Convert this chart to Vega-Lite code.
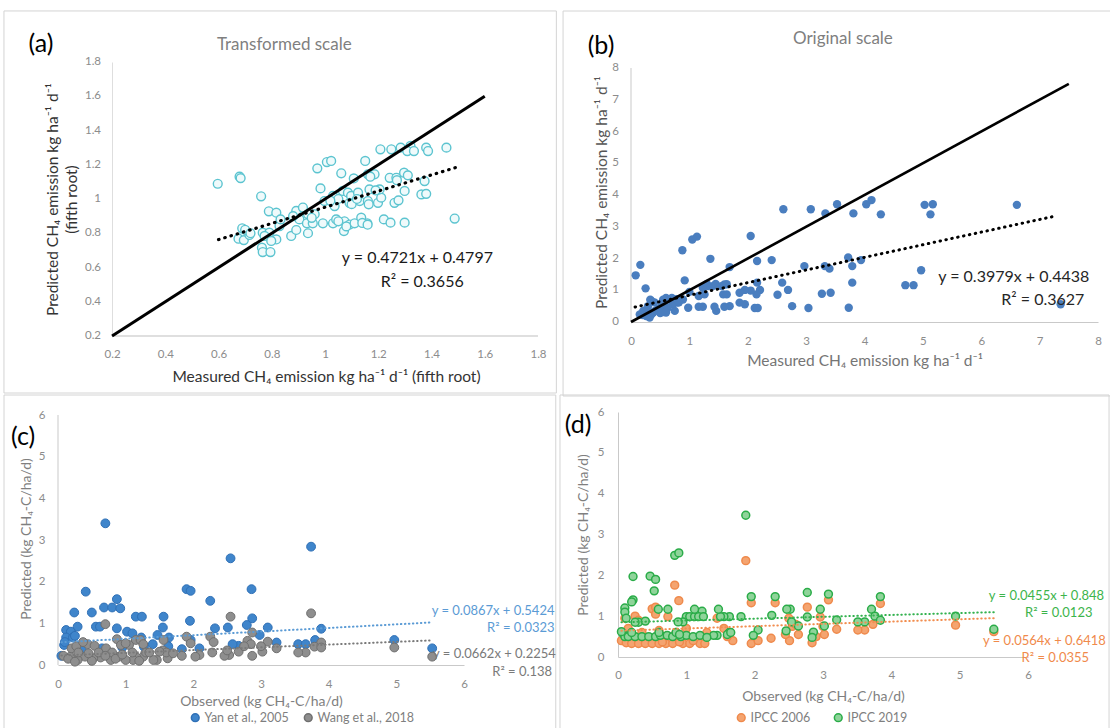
{
  "$schema": "https://vega.github.io/schema/vega-lite/v6.json",
  "background": "white",
  "padding": {"left": 3, "top": 10, "right": 0, "bottom": 0},
  "spacing": -3,
  "resolve": {"scale": {"color": "independent", "stroke": "independent"}},
  "config": {
    "view": {"stroke": null},
    "font": "Lato",
    "axis": {"ticks": false, "grid": false, "domainColor": "#c9c9c9", "domainWidth": 1, "labelColor": "#8c8c8c", "labelFontSize": 11.5, "labelFont": "Lato", "titleFont": "Lato", "titleFontWeight": "normal", "labelOverlap": false, "labelFlush": false},
    "legend": {"labelFont": "Lato", "labelFontSize": 12.5, "labelColor": "#7f7f7f", "symbolType": "circle", "direction": "horizontal"}
  },
  "datasets": {
    "a_ticks": [{"v":0.2},{"v":0.4},{"v":0.6},{"v":0.8},{"v":1},{"v":1.2},{"v":1.4},{"v":1.6},{"v":1.8}],
    "b_ticks": [{"v":0},{"v":1},{"v":2},{"v":3},{"v":4},{"v":5},{"v":6},{"v":7},{"v":8}],
    "a_pts": [
      {"x":0.597,"y":1.089},{"x":0.679,"y":1.130},{"x":0.683,"y":1.122},{"x":0.760,"y":1.016},{"x":0.789,"y":0.928},{"x":0.817,"y":0.920},{"x":0.689,"y":0.829},{"x":0.675,"y":0.768},{"x":0.695,"y":0.760},{"x":0.716,"y":0.790},{"x":0.766,"y":0.803},{"x":0.791,"y":0.803},{"x":0.773,"y":0.784},{"x":0.817,"y":0.764},{"x":0.798,"y":0.755},{"x":0.763,"y":0.716},{"x":0.766,"y":0.690},{"x":0.795,"y":0.690},{"x":0.829,"y":0.842},{"x":0.833,"y":0.881},{"x":0.873,"y":0.784},{"x":0.892,"y":0.819},{"x":0.892,"y":0.930},{"x":0.917,"y":0.950},{"x":0.936,"y":0.911},{"x":0.904,"y":0.881},{"x":0.936,"y":0.800},{"x":0.932,"y":0.858},{"x":0.961,"y":0.911},{"x":0.954,"y":0.858},{"x":0.992,"y":0.858},{"x":0.971,"y":1.179},{"x":1.007,"y":1.216},{"x":1.023,"y":1.222},{"x":0.983,"y":1.062},{"x":0.998,"y":0.988},{"x":1.030,"y":1.018},{"x":1.036,"y":0.959},{"x":1.030,"y":0.858},{"x":1.042,"y":0.881},{"x":1.071,"y":0.813},{"x":1.061,"y":1.150},{"x":1.067,"y":1.047},{"x":1.086,"y":1.037},{"x":1.098,"y":1.018},{"x":1.092,"y":0.978},{"x":1.073,"y":0.870},{"x":1.092,"y":0.851},{"x":1.111,"y":0.858},{"x":1.108,"y":1.120},{"x":1.130,"y":0.988},{"x":1.136,"y":0.891},{"x":1.151,"y":1.222},{"x":1.161,"y":1.144},{"x":1.186,"y":1.144},{"x":1.167,"y":1.056},{"x":1.161,"y":0.988},{"x":1.164,"y":0.969},{"x":1.159,"y":0.858},{"x":1.199,"y":0.978},{"x":1.211,"y":1.008},{"x":1.205,"y":1.056},{"x":1.221,"y":0.881},{"x":1.246,"y":0.862},{"x":1.208,"y":1.290},{"x":1.249,"y":1.290},{"x":1.284,"y":1.300},{"x":1.321,"y":1.310},{"x":1.309,"y":1.280},{"x":1.334,"y":1.280},{"x":1.380,"y":1.300},{"x":1.387,"y":1.280},{"x":1.456,"y":1.300},{"x":1.243,"y":1.124},{"x":1.268,"y":1.124},{"x":1.297,"y":1.154},{"x":1.311,"y":1.138},{"x":1.374,"y":1.105},{"x":1.261,"y":0.978},{"x":1.276,"y":0.992},{"x":1.299,"y":1.047},{"x":1.362,"y":1.027},{"x":1.380,"y":1.030},{"x":1.299,"y":0.862},{"x":1.487,"y":0.886},{"x":1.124,"y":1.037},{"x":1.05,"y":1.00},{"x":1.10,"y":0.97},{"x":1.02,"y":0.99},{"x":0.70,"y":0.82},{"x":0.72,"y":0.80},{"x":0.88,"y":0.90},{"x":0.95,"y":0.89},{"x":1.14,"y":0.86},{"x":1.16,"y":0.85},{"x":1.08,"y":0.84},{"x":1.05,"y":0.87},{"x":1.12,"y":1.00},{"x":1.19,"y":1.05},{"x":1.27,"y":1.11},{"x":1.17,"y":1.13}
    ],
    "a_lines": [
      {"line":"1:1","x":0.2,"y":0.2},{"line":"1:1","x":1.6,"y":1.6},
      {"line":"fit","x":0.6,"y":0.763},{"line":"fit","x":1.49,"y":1.1831}
    ],
    "b_pts": [
      {"x":0.08,"y":1.47},{"x":0.16,"y":1.80},{"x":0.25,"y":1.06},{"x":0.88,"y":2.26},{"x":1.05,"y":2.60},{"x":1.13,"y":2.69},{"x":1.36,"y":1.99},{"x":0.92,"y":1.31},{"x":1.69,"y":1.73},{"x":2.05,"y":2.71},{"x":2.16,"y":1.92},{"x":2.41,"y":1.95},{"x":2.61,"y":3.55},{"x":3.08,"y":3.55},{"x":3.33,"y":3.42},{"x":3.53,"y":3.71},{"x":3.81,"y":3.42},{"x":4.03,"y":3.71},{"x":4.12,"y":3.84},{"x":4.28,"y":3.39},{"x":5.03,"y":3.69},{"x":5.17,"y":3.71},{"x":5.13,"y":3.39},{"x":6.61,"y":3.69},{"x":7.36,"y":0.56},{"x":4.97,"y":1.63},{"x":4.70,"y":1.16},{"x":4.84,"y":1.16},{"x":3.72,"y":2.03},{"x":3.94,"y":1.95},{"x":3.79,"y":1.76},{"x":3.79,"y":1.24},{"x":3.73,"y":0.45},{"x":3.32,"y":1.76},{"x":3.40,"y":1.68},{"x":3.42,"y":0.92},{"x":3.27,"y":0.89},{"x":2.97,"y":1.76},{"x":3.04,"y":0.44},{"x":2.76,"y":0.50},{"x":2.69,"y":1.01},{"x":2.59,"y":1.24},{"x":2.51,"y":0.86},{"x":2.16,"y":1.24},{"x":2.21,"y":1.01},{"x":2.15,"y":0.87},{"x":2.12,"y":0.44},{"x":2.17,"y":0.44},{"x":2.05,"y":0.99},{"x":1.95,"y":1.01},{"x":1.86,"y":0.92},{"x":1.95,"y":0.56},{"x":1.69,"y":0.50},{"x":1.60,"y":0.48},{"x":1.64,"y":1.19},{"x":1.58,"y":0.87},{"x":1.64,"y":0.87},{"x":1.46,"y":0.35},{"x":1.43,"y":0.48},{"x":1.55,"y":1.13},{"x":1.40,"y":1.13},{"x":1.32,"y":1.13},{"x":1.23,"y":1.08},{"x":1.26,"y":0.87},{"x":1.23,"y":0.48},{"x":1.16,"y":0.48},{"x":0.98,"y":0.45},{"x":1.16,"y":0.82},{"x":1.00,"y":0.95},{"x":0.89,"y":0.71},{"x":0.80,"y":0.61},{"x":0.72,"y":0.56},{"x":0.66,"y":0.71},{"x":0.58,"y":0.66},{"x":0.52,"y":0.48},{"x":0.75,"y":0.35},{"x":0.55,"y":0.31},{"x":0.35,"y":0.66},{"x":0.29,"y":0.50},{"x":0.21,"y":0.35},{"x":0.15,"y":0.24},{"x":0.26,"y":0.19},{"x":0.35,"y":0.24},{"x":0.41,"y":0.35},{"x":0.32,"y":0.14},{"x":0.46,"y":0.40},{"x":0.63,"y":0.45},{"x":1.86,"y":0.61},{"x":0.33,"y":0.70},{"x":0.40,"y":0.62},{"x":0.55,"y":0.70},{"x":0.60,"y":0.76},{"x":0.70,"y":0.76},{"x":0.78,"y":0.72},{"x":0.82,"y":0.62},{"x":0.50,"y":0.28},{"x":0.60,"y":0.30},{"x":0.38,"y":0.30},{"x":0.28,"y":0.40},{"x":0.20,"y":0.22},{"x":1.30,"y":1.20},{"x":1.45,"y":1.20},{"x":1.60,"y":1.18}
    ],
    "b_lines": [
      {"line":"1:1","x":0,"y":0},{"line":"1:1","x":7.5,"y":7.5},
      {"line":"fit","x":0.07,"y":0.4717},{"line":"fit","x":7.3,"y":3.3485}
    ],
    "c_pts": [
      {"series":"Yan et al., 2005","x":0.70,"y":3.40},{"series":"Yan et al., 2005","x":3.74,"y":2.84},{"series":"Yan et al., 2005","x":2.55,"y":2.56},{"series":"Yan et al., 2005","x":0.41,"y":1.76},{"series":"Yan et al., 2005","x":1.90,"y":1.82},{"series":"Yan et al., 2005","x":1.96,"y":1.78},{"series":"Yan et al., 2005","x":2.86,"y":1.82},{"series":"Yan et al., 2005","x":2.25,"y":1.54},{"series":"Yan et al., 2005","x":0.87,"y":1.58},{"series":"Yan et al., 2005","x":0.68,"y":1.38},{"series":"Yan et al., 2005","x":0.80,"y":1.38},{"series":"Yan et al., 2005","x":0.92,"y":1.36},{"series":"Yan et al., 2005","x":0.24,"y":1.26},{"series":"Yan et al., 2005","x":0.50,"y":1.26},{"series":"Yan et al., 2005","x":1.15,"y":1.16},{"series":"Yan et al., 2005","x":1.24,"y":1.16},{"series":"Yan et al., 2005","x":1.56,"y":1.16},{"series":"Yan et al., 2005","x":2.87,"y":1.12},{"series":"Yan et al., 2005","x":1.95,"y":1.06},{"series":"Yan et al., 2005","x":0.56,"y":0.92},{"series":"Yan et al., 2005","x":0.29,"y":0.92},{"series":"Yan et al., 2005","x":0.87,"y":0.88},{"series":"Yan et al., 2005","x":1.55,"y":0.90},{"series":"Yan et al., 2005","x":1.02,"y":0.80},{"series":"Yan et al., 2005","x":1.10,"y":0.76},{"series":"Yan et al., 2005","x":2.32,"y":0.88},{"series":"Yan et al., 2005","x":2.51,"y":0.90},{"series":"Yan et al., 2005","x":2.79,"y":0.96},{"series":"Yan et al., 2005","x":3.10,"y":0.90},{"series":"Yan et al., 2005","x":2.98,"y":0.72},{"series":"Yan et al., 2005","x":3.89,"y":0.87},{"series":"Yan et al., 2005","x":0.12,"y":0.84},{"series":"Yan et al., 2005","x":0.19,"y":0.80},{"series":"Yan et al., 2005","x":0.12,"y":0.66},{"series":"Yan et al., 2005","x":0.22,"y":0.66},{"series":"Yan et al., 2005","x":1.23,"y":0.66},{"series":"Yan et al., 2005","x":1.47,"y":0.72},{"series":"Yan et al., 2005","x":1.64,"y":0.66},{"series":"Yan et al., 2005","x":1.96,"y":0.60},{"series":"Yan et al., 2005","x":3.80,"y":0.60},{"series":"Yan et al., 2005","x":4.97,"y":0.60},{"series":"Yan et al., 2005","x":5.53,"y":0.40},{"series":"Yan et al., 2005","x":3.55,"y":0.50},{"series":"Yan et al., 2005","x":3.66,"y":0.50},{"series":"Yan et al., 2005","x":3.23,"y":0.54},{"series":"Yan et al., 2005","x":2.67,"y":0.46},{"series":"Yan et al., 2005","x":2.58,"y":0.50},{"series":"Yan et al., 2005","x":2.09,"y":0.40},{"series":"Yan et al., 2005","x":1.83,"y":0.38},{"series":"Yan et al., 2005","x":1.27,"y":0.44},{"series":"Yan et al., 2005","x":0.09,"y":0.48},{"series":"Yan et al., 2005","x":0.62,"y":0.92},{"series":"Yan et al., 2005","x":0.25,"y":0.70},{"series":"Yan et al., 2005","x":0.10,"y":0.55},{"series":"Yan et al., 2005","x":0.65,"y":0.40},{"series":"Yan et al., 2005","x":0.95,"y":0.42},{"series":"Yan et al., 2005","x":1.40,"y":0.50},{"series":"Yan et al., 2005","x":0.05,"y":0.22},{"series":"Yan et al., 2005","x":1.63,"y":0.45},{"series":"Yan et al., 2005","x":0.35,"y":0.35},
      {"series":"Wang et al., 2018","x":3.74,"y":1.24},{"series":"Wang et al., 2018","x":2.55,"y":1.16},{"series":"Wang et al., 2018","x":0.70,"y":0.98},{"series":"Wang et al., 2018","x":2.87,"y":0.78},{"series":"Wang et al., 2018","x":1.90,"y":0.68},{"series":"Wang et al., 2018","x":2.25,"y":0.68},{"series":"Wang et al., 2018","x":0.87,"y":0.62},{"series":"Wang et al., 2018","x":1.15,"y":0.60},{"series":"Wang et al., 2018","x":1.22,"y":0.60},{"series":"Wang et al., 2018","x":1.56,"y":0.60},{"series":"Wang et al., 2018","x":1.96,"y":0.52},{"series":"Wang et al., 2018","x":2.80,"y":0.58},{"series":"Wang et al., 2018","x":3.10,"y":0.56},{"series":"Wang et al., 2018","x":3.89,"y":0.54},{"series":"Wang et al., 2018","x":3.79,"y":0.44},{"series":"Wang et al., 2018","x":3.89,"y":0.42},{"series":"Wang et al., 2018","x":4.97,"y":0.42},{"series":"Wang et al., 2018","x":5.53,"y":0.20},{"series":"Wang et al., 2018","x":3.66,"y":0.30},{"series":"Wang et al., 2018","x":3.55,"y":0.30},{"series":"Wang et al., 2018","x":3.23,"y":0.40},{"series":"Wang et al., 2018","x":3.02,"y":0.32},{"series":"Wang et al., 2018","x":2.87,"y":0.22},{"series":"Wang et al., 2018","x":2.67,"y":0.32},{"series":"Wang et al., 2018","x":2.53,"y":0.24},{"series":"Wang et al., 2018","x":2.46,"y":0.22},{"series":"Wang et al., 2018","x":2.28,"y":0.30},{"series":"Wang et al., 2018","x":2.09,"y":0.24},{"series":"Wang et al., 2018","x":2.03,"y":0.20},{"series":"Wang et al., 2018","x":1.83,"y":0.22},{"series":"Wang et al., 2018","x":1.62,"y":0.16},{"series":"Wang et al., 2018","x":1.46,"y":0.12},{"series":"Wang et al., 2018","x":1.41,"y":0.12},{"series":"Wang et al., 2018","x":1.26,"y":0.20},{"series":"Wang et al., 2018","x":1.16,"y":0.18},{"series":"Wang et al., 2018","x":1.11,"y":0.12},{"series":"Wang et al., 2018","x":1.00,"y":0.12},{"series":"Wang et al., 2018","x":0.90,"y":0.20},{"series":"Wang et al., 2018","x":0.78,"y":0.12},{"series":"Wang et al., 2018","x":0.63,"y":0.18},{"series":"Wang et al., 2018","x":0.52,"y":0.16},{"series":"Wang et al., 2018","x":0.40,"y":0.20},{"series":"Wang et al., 2018","x":0.29,"y":0.12},{"series":"Wang et al., 2018","x":0.18,"y":0.20},{"series":"Wang et al., 2018","x":0.08,"y":0.22},{"series":"Wang et al., 2018","x":0.20,"y":0.40},{"series":"Wang et al., 2018","x":0.27,"y":0.45},{"series":"Wang et al., 2018","x":0.44,"y":0.50},{"series":"Wang et al., 2018","x":0.54,"y":0.46},{"series":"Wang et al., 2018","x":0.71,"y":0.40},{"series":"Wang et al., 2018","x":0.93,"y":0.48},{"series":"Wang et al., 2018","x":1.05,"y":0.48},{"series":"Wang et al., 2018","x":1.26,"y":0.50},{"series":"Wang et al., 2018","x":0.37,"y":0.55},{"series":"Wang et al., 2018","x":1.00,"y":0.52},{"series":"Wang et al., 2018","x":1.55,"y":0.35},{"series":"Wang et al., 2018","x":1.60,"y":0.30},{"series":"Wang et al., 2018","x":2.30,"y":0.55},{"series":"Wang et al., 2018","x":2.85,"y":0.50},{"series":"Wang et al., 2018","x":3.00,"y":0.45},{"series":"Wang et al., 2018","x":0.30,"y":0.30},{"series":"Wang et al., 2018","x":0.60,"y":0.30},{"series":"Wang et al., 2018","x":0.80,"y":0.30},{"series":"Wang et al., 2018","x":1.10,"y":0.30},{"series":"Wang et al., 2018","x":1.30,"y":0.30},{"series":"Wang et al., 2018","x":1.50,"y":0.32},{"series":"Wang et al., 2018","x":1.70,"y":0.28},{"series":"Wang et al., 2018","x":0.15,"y":0.15},{"series":"Wang et al., 2018","x":0.25,"y":0.08},{"series":"Wang et al., 2018","x":0.50,"y":0.10},{"series":"Wang et al., 2018","x":0.85,"y":0.15},{"series":"Wang et al., 2018","x":1.20,"y":0.10},{"series":"Wang et al., 2018","x":1.35,"y":0.30},{"series":"Wang et al., 2018","x":0.95,"y":0.25},{"series":"Wang et al., 2018","x":0.70,"y":0.22},{"series":"Wang et al., 2018","x":0.45,"y":0.28},{"series":"Wang et al., 2018","x":2.50,"y":0.35},{"series":"Wang et al., 2018","x":2.75,"y":0.45}
    ],
    "c_lines": [
      {"series":"Yan et al., 2005","x":0.05,"y":0.5467},{"series":"Yan et al., 2005","x":5.5,"y":1.0193},
      {"series":"Wang et al., 2018","x":0.05,"y":0.2287},{"series":"Wang et al., 2018","x":5.5,"y":0.5895}
    ],
    "d_pts": [
      {"series":"IPCC 2006","x":1.87,"y":2.36},{"series":"IPCC 2006","x":0.83,"y":1.76},{"series":"IPCC 2006","x":0.89,"y":1.38},{"series":"IPCC 2006","x":1.95,"y":1.33},{"series":"IPCC 2006","x":2.30,"y":1.33},{"series":"IPCC 2006","x":2.77,"y":1.22},{"series":"IPCC 2006","x":3.08,"y":1.40},{"series":"IPCC 2006","x":3.84,"y":1.31},{"series":"IPCC 2006","x":4.94,"y":0.78},{"series":"IPCC 2006","x":5.50,"y":0.62},{"series":"IPCC 2006","x":3.73,"y":0.80},{"series":"IPCC 2006","x":3.61,"y":0.66},{"series":"IPCC 2006","x":3.51,"y":0.66},{"series":"IPCC 2006","x":3.20,"y":0.68},{"series":"IPCC 2006","x":3.02,"y":0.55},{"series":"IPCC 2006","x":2.96,"y":0.98},{"series":"IPCC 2006","x":2.84,"y":0.35},{"series":"IPCC 2006","x":2.64,"y":0.55},{"series":"IPCC 2006","x":2.51,"y":0.40},{"series":"IPCC 2006","x":2.24,"y":0.46},{"series":"IPCC 2006","x":1.95,"y":0.33},{"series":"IPCC 2006","x":2.05,"y":0.40},{"series":"IPCC 2006","x":1.68,"y":0.40},{"series":"IPCC 2006","x":0.73,"y":0.99},{"series":"IPCC 2006","x":0.50,"y":1.18},{"series":"IPCC 2006","x":0.55,"y":1.22},{"series":"IPCC 2006","x":0.55,"y":1.05},{"series":"IPCC 2006","x":0.25,"y":1.00},{"series":"IPCC 2006","x":0.30,"y":0.90},{"series":"IPCC 2006","x":0.10,"y":0.95},{"series":"IPCC 2006","x":0.15,"y":0.70},{"series":"IPCC 2006","x":0.05,"y":0.40},{"series":"IPCC 2006","x":0.12,"y":0.35},{"series":"IPCC 2006","x":0.20,"y":0.33},{"series":"IPCC 2006","x":0.30,"y":0.33},{"series":"IPCC 2006","x":0.40,"y":0.33},{"series":"IPCC 2006","x":0.50,"y":0.33},{"series":"IPCC 2006","x":0.60,"y":0.33},{"series":"IPCC 2006","x":0.70,"y":0.33},{"series":"IPCC 2006","x":0.80,"y":0.33},{"series":"IPCC 2006","x":0.95,"y":0.33},{"series":"IPCC 2006","x":1.05,"y":0.33},{"series":"IPCC 2006","x":1.20,"y":0.33},{"series":"IPCC 2006","x":1.27,"y":0.33},{"series":"IPCC 2006","x":0.65,"y":0.37},{"series":"IPCC 2006","x":0.90,"y":0.37},{"series":"IPCC 2006","x":1.10,"y":0.40},{"series":"IPCC 2006","x":1.00,"y":0.70},{"series":"IPCC 2006","x":0.60,"y":0.65},{"series":"IPCC 2006","x":0.85,"y":0.60},{"series":"IPCC 2006","x":1.45,"y":0.95},{"series":"IPCC 2006","x":1.55,"y":0.70},{"series":"IPCC 2006","x":2.50,"y":0.95},{"series":"IPCC 2006","x":2.55,"y":0.75},{"series":"IPCC 2006","x":2.45,"y":0.55},{"series":"IPCC 2006","x":3.00,"y":0.75},{"series":"IPCC 2006","x":0.35,"y":0.60},{"series":"IPCC 2006","x":1.30,"y":0.60},{"series":"IPCC 2006","x":1.60,"y":0.50},{"series":"IPCC 2006","x":2.90,"y":0.50},{"series":"IPCC 2006","x":2.60,"y":0.80},
      {"series":"IPCC 2019","x":1.87,"y":3.47},{"series":"IPCC 2019","x":0.83,"y":2.49},{"series":"IPCC 2019","x":0.89,"y":2.55},{"series":"IPCC 2019","x":0.22,"y":1.97},{"series":"IPCC 2019","x":0.47,"y":1.98},{"series":"IPCC 2019","x":0.55,"y":1.90},{"series":"IPCC 2019","x":0.53,"y":1.62},{"series":"IPCC 2019","x":1.95,"y":1.48},{"series":"IPCC 2019","x":2.30,"y":1.48},{"series":"IPCC 2019","x":2.77,"y":1.58},{"series":"IPCC 2019","x":3.08,"y":1.54},{"series":"IPCC 2019","x":3.84,"y":1.48},{"series":"IPCC 2019","x":4.94,"y":1.00},{"series":"IPCC 2019","x":5.50,"y":0.68},{"series":"IPCC 2019","x":3.71,"y":1.17},{"series":"IPCC 2019","x":3.76,"y":1.00},{"series":"IPCC 2019","x":3.84,"y":0.90},{"series":"IPCC 2019","x":3.61,"y":0.86},{"series":"IPCC 2019","x":3.51,"y":0.86},{"series":"IPCC 2019","x":3.20,"y":0.91},{"series":"IPCC 2019","x":3.02,"y":0.76},{"series":"IPCC 2019","x":2.96,"y":1.17},{"series":"IPCC 2019","x":2.86,"y":0.61},{"series":"IPCC 2019","x":2.84,"y":0.48},{"series":"IPCC 2019","x":2.77,"y":0.98},{"series":"IPCC 2019","x":2.64,"y":0.76},{"series":"IPCC 2019","x":2.54,"y":0.86},{"series":"IPCC 2019","x":2.52,"y":1.17},{"series":"IPCC 2019","x":2.47,"y":1.17},{"series":"IPCC 2019","x":2.46,"y":0.64},{"series":"IPCC 2019","x":2.25,"y":1.02},{"series":"IPCC 2019","x":2.05,"y":0.66},{"series":"IPCC 2019","x":1.98,"y":0.53},{"series":"IPCC 2019","x":1.80,"y":0.99},{"series":"IPCC 2019","x":1.63,"y":0.99},{"series":"IPCC 2019","x":1.55,"y":0.99},{"series":"IPCC 2019","x":1.50,"y":0.99},{"series":"IPCC 2019","x":1.47,"y":1.17},{"series":"IPCC 2019","x":1.63,"y":0.60},{"series":"IPCC 2019","x":1.45,"y":0.53},{"series":"IPCC 2019","x":1.40,"y":0.53},{"series":"IPCC 2019","x":1.23,"y":1.12},{"series":"IPCC 2019","x":1.00,"y":0.99},{"series":"IPCC 2019","x":1.05,"y":0.99},{"series":"IPCC 2019","x":1.12,"y":0.99},{"series":"IPCC 2019","x":1.18,"y":0.99},{"series":"IPCC 2019","x":1.25,"y":0.99},{"series":"IPCC 2019","x":1.12,"y":1.17},{"series":"IPCC 2019","x":0.73,"y":1.17},{"series":"IPCC 2019","x":0.59,"y":1.17},{"series":"IPCC 2019","x":0.95,"y":0.86},{"series":"IPCC 2019","x":0.88,"y":0.86},{"series":"IPCC 2019","x":0.10,"y":1.20},{"series":"IPCC 2019","x":0.10,"y":1.10},{"series":"IPCC 2019","x":0.12,"y":0.95},{"series":"IPCC 2019","x":0.22,"y":1.40},{"series":"IPCC 2019","x":0.20,"y":1.35},{"series":"IPCC 2019","x":0.30,"y":0.85},{"series":"IPCC 2019","x":0.25,"y":0.85},{"series":"IPCC 2019","x":0.07,"y":0.58},{"series":"IPCC 2019","x":0.10,"y":0.50},{"series":"IPCC 2019","x":0.15,"y":0.50},{"series":"IPCC 2019","x":0.25,"y":0.50},{"series":"IPCC 2019","x":0.35,"y":0.50},{"series":"IPCC 2019","x":0.45,"y":0.50},{"series":"IPCC 2019","x":0.55,"y":0.50},{"series":"IPCC 2019","x":0.62,"y":0.53},{"series":"IPCC 2019","x":0.72,"y":0.53},{"series":"IPCC 2019","x":0.80,"y":0.50},{"series":"IPCC 2019","x":0.92,"y":0.50},{"series":"IPCC 2019","x":1.00,"y":0.53},{"series":"IPCC 2019","x":1.10,"y":0.50},{"series":"IPCC 2019","x":1.20,"y":0.53},{"series":"IPCC 2019","x":1.30,"y":0.48},{"series":"IPCC 2019","x":0.40,"y":0.88},{"series":"IPCC 2019","x":0.60,"y":0.60},{"series":"IPCC 2019","x":0.85,"y":0.60},{"series":"IPCC 2019","x":0.90,"y":0.55},{"series":"IPCC 2019","x":1.60,"y":0.55},{"series":"IPCC 2019","x":1.65,"y":0.60},{"series":"IPCC 2019","x":0.20,"y":0.60},{"series":"IPCC 2019","x":0.05,"y":0.62}
    ],
    "d_lines": [
      {"series":"IPCC 2019","x":0.05,"y":0.8503},{"series":"IPCC 2019","x":5.5,"y":1.0983},
      {"series":"IPCC 2006","x":0.05,"y":0.6446},{"series":"IPCC 2006","x":5.5,"y":0.952}
    ]
  },
  "vconcat": [
    {
      "spacing": 5,
      "resolve": {"scale": {"color": "independent", "stroke": "independent"}},
      "hconcat": [
        {
          "width": 480,
          "height": 274,
          "layer": [
            {
              "data": {"values": [{}]},
              "mark": {"type": "rect", "fill": null, "stroke": "#d4d4d4", "strokeWidth": 1},
              "encoding": {
                "x": {"datum": -0.206, "type": "quantitative", "scale": {"domain": [-0.003, 1.8], "nice": false, "zero": false},
                      "axis": {"title": "Measured CH₄ emission kg ha⁻¹ d⁻¹ (fifth root)", "values": [0.2, 0.4, 0.6, 0.8, 1, 1.2, 1.4, 1.6, 1.8], "format": "~g", "labelOverlap": false, "domain": false, "labelPadding": 12, "titlePadding": 10, "titleX": 268, "titleAnchor": "start", "titleAlign": "center", "titleColor": "#333333", "titleFontSize": 15.5}},
                "x2": {"datum": 1.869},
                "y": {"datum": 2.098, "type": "quantitative", "scale": {"domain": [0.2, 1.8], "nice": false, "zero": false},
                      "axis": {"title": ["Predicted CH₄ emission kg ha⁻¹ d⁻¹", "(fifth root)"], "values": [0.2, 0.4, 0.6, 0.8, 1, 1.2, 1.4, 1.6, 1.8], "labels": false, "offset": -54, "titlePadding": 33, "titleColor": "#333333", "titleFontSize": 15.5, "titleLineHeight": 19, "domainColor": "#dedede"}},
                "y2": {"datum": -0.133}
              }
            },
            {
              "data": {"name": "a_ticks"},
              "mark": {"type": "text", "align": "right", "baseline": "middle", "dx": -11, "fontSize": 11.5, "color": "#8c8c8c"},
              "encoding": {
                "x": {"datum": 0.2, "type": "quantitative", "scale": {"domain": [-0.003, 1.8], "nice": false, "zero": false}},
                "y": {"field": "v", "type": "quantitative", "scale": {"domain": [0.2, 1.8], "nice": false, "zero": false}},
                "text": {"field": "v", "type": "quantitative", "format": "~g"}
              }
            },
            {
              "data": {"values": [{}]},
              "mark": {"type": "rule", "color": "#bfbfbf", "strokeWidth": 1},
              "encoding": {
                "x": {"datum": 0.2, "type": "quantitative", "scale": {"domain": [-0.003, 1.8], "nice": false, "zero": false}},
                "x2": {"datum": 1.8},
                "y": {"datum": 0.2, "type": "quantitative", "scale": {"domain": [0.2, 1.8], "nice": false, "zero": false}}
              }
            },
            {
              "data": {"name": "a_pts"},
              "mark": {"type": "point", "shape": "circle", "filled": true, "fill": "#effafb", "stroke": "#5cc4d0", "strokeWidth": 1.4, "size": 78, "opacity": 1},
              "encoding": {
                "x": {"field": "x", "type": "quantitative", "scale": {"domain": [-0.003, 1.8], "nice": false, "zero": false}},
                "y": {"field": "y", "type": "quantitative", "scale": {"domain": [0.2, 1.8], "nice": false, "zero": false}}
              }
            },
            {
              "data": {"name": "a_lines"},
              "transform": [{"filter": "datum.line === '1:1'"}],
              "mark": {"type": "line", "color": "#000000", "strokeWidth": 3},
              "encoding": {
                "x": {"field": "x", "type": "quantitative", "scale": {"domain": [-0.003, 1.8], "nice": false, "zero": false}},
                "y": {"field": "y", "type": "quantitative", "scale": {"domain": [0.2, 1.8], "nice": false, "zero": false}}
              }
            },
            {
              "data": {"name": "a_lines"},
              "transform": [{"filter": "datum.line === 'fit'"}],
              "mark": {"type": "line", "color": "#000000", "strokeWidth": 3.2, "strokeDash": [0.5, 6], "strokeCap": "round"},
              "encoding": {
                "x": {"field": "x", "type": "quantitative", "scale": {"domain": [-0.003, 1.8], "nice": false, "zero": false}},
                "y": {"field": "y", "type": "quantitative", "scale": {"domain": [0.2, 1.8], "nice": false, "zero": false}}
              }
            },
            {
              "data": {"values": [{}]},
              "mark": {"type": "text", "fontSize": 25, "color": "#000000", "align": "center", "baseline": "middle"},
              "encoding": {"x": {"datum": -0.067, "type": "quantitative"}, "y": {"datum": 1.905, "type": "quantitative"}, "text": {"value": "(a)"}}
            },
            {
              "data": {"values": [{}]},
              "mark": {"type": "text", "fontSize": 17, "color": "#7f7f7f", "align": "center", "baseline": "middle"},
              "encoding": {"x": {"datum": 0.847, "type": "quantitative"}, "y": {"datum": 1.899, "type": "quantitative"}, "text": {"value": "Transformed scale"}}
            },
            {
              "data": {"values": [{}]},
              "mark": {"type": "text", "fontSize": 16, "color": "#1a1a1a", "align": "center", "baseline": "middle"},
              "encoding": {"x": {"datum": 1.347, "type": "quantitative"}, "y": {"datum": 0.655, "type": "quantitative"}, "text": {"value": "y = 0.4721x + 0.4797"}}
            },
            {
              "data": {"values": [{}]},
              "mark": {"type": "text", "fontSize": 16, "color": "#1a1a1a", "align": "center", "baseline": "middle"},
              "encoding": {"x": {"datum": 1.365, "type": "quantitative"}, "y": {"datum": 0.515, "type": "quantitative"}, "text": {"value": "R² = 0.3656"}}
            }
          ]
        },
        {
          "width": 467,
          "height": 260,
          "layer": [
            {
              "data": {"values": [{}]},
              "mark": {"type": "rect", "fill": null, "stroke": "#d4d4d4", "strokeWidth": 1},
              "encoding": {
                "x": {"datum": -1.164, "type": "quantitative", "scale": {"domain": [0, 8], "nice": false, "zero": false},
                      "axis": {"title": "Measured CH₄ emission kg ha⁻¹ d⁻¹", "values": [0, 1, 2, 3, 4, 5, 6, 7, 8], "format": "d", "labelOverlap": false, "labelPadding": 13, "titlePadding": 7, "titleColor": "#757575", "titleFontSize": 15.5}},
                "x2": {"datum": 8.236},
                "y": {"datum": 9.795, "type": "quantitative", "scale": {"domain": [0, 8.189], "nice": false, "zero": false},
                      "axis": {"title": "Predicted CH₄ emission kg ha⁻¹ d⁻¹", "values": [0, 1, 2, 3, 4, 5, 6, 7, 8], "labels": false, "domain": false, "titlePadding": 22, "titleColor": "#555555", "titleFontSize": 15.5}},
                "y2": {"datum": -2.331}
              }
            },
            {
              "data": {"name": "b_ticks"},
              "mark": {"type": "text", "align": "right", "baseline": "middle", "dx": -12, "fontSize": 11.5, "color": "#8c8c8c"},
              "encoding": {
                "x": {"datum": 0, "type": "quantitative", "scale": {"domain": [0, 8], "nice": false, "zero": false}},
                "y": {"field": "v", "type": "quantitative", "scale": {"domain": [0, 8.189], "nice": false, "zero": false}},
                "text": {"field": "v", "type": "quantitative", "format": "d"}
              }
            },
            {
              "data": {"values": [{}]},
              "mark": {"type": "rule", "color": "#c9c9c9", "strokeWidth": 1},
              "encoding": {
                "x": {"datum": 0, "type": "quantitative", "scale": {"domain": [0, 8], "nice": false, "zero": false}},
                "y": {"datum": 0, "type": "quantitative", "scale": {"domain": [0, 8.189], "nice": false, "zero": false}},
                "y2": {"datum": 8}
              }
            },
            {
              "data": {"name": "b_pts"},
              "mark": {"type": "point", "shape": "circle", "filled": true, "color": "#4a7ebf", "size": 70, "opacity": 1},
              "encoding": {
                "x": {"field": "x", "type": "quantitative", "scale": {"domain": [0, 8], "nice": false, "zero": false}},
                "y": {"field": "y", "type": "quantitative", "scale": {"domain": [0, 8.189], "nice": false, "zero": false}}
              }
            },
            {
              "data": {"name": "b_lines"},
              "transform": [{"filter": "datum.line === '1:1'"}],
              "mark": {"type": "line", "color": "#000000", "strokeWidth": 2.6},
              "encoding": {
                "x": {"field": "x", "type": "quantitative", "scale": {"domain": [0, 8], "nice": false, "zero": false}},
                "y": {"field": "y", "type": "quantitative", "scale": {"domain": [0, 8.189], "nice": false, "zero": false}}
              }
            },
            {
              "data": {"name": "b_lines"},
              "transform": [{"filter": "datum.line === 'fit'"}],
              "mark": {"type": "line", "color": "#000000", "strokeWidth": 3, "strokeDash": [0.5, 5.5], "strokeCap": "round"},
              "encoding": {
                "x": {"field": "x", "type": "quantitative", "scale": {"domain": [0, 8], "nice": false, "zero": false}},
                "y": {"field": "y", "type": "quantitative", "scale": {"domain": [0, 8.189], "nice": false, "zero": false}}
              }
            },
            {
              "data": {"values": [{}]},
              "mark": {"type": "text", "fontSize": 25, "color": "#000000", "align": "center", "baseline": "middle"},
              "encoding": {"x": {"datum": -0.514, "type": "quantitative"}, "y": {"datum": 8.693, "type": "quantitative"}, "text": {"value": "(b)"}}
            },
            {
              "data": {"values": [{}]},
              "mark": {"type": "text", "fontSize": 17, "color": "#7f7f7f", "align": "center", "baseline": "middle"},
              "encoding": {"x": {"datum": 3.63, "type": "quantitative"}, "y": {"datum": 8.913, "type": "quantitative"}, "text": {"value": "Original scale"}}
            },
            {
              "data": {"values": [{}]},
              "mark": {"type": "text", "fontSize": 16, "color": "#262626", "align": "center", "baseline": "middle"},
              "encoding": {"x": {"datum": 6.558, "type": "quantitative"}, "y": {"datum": 1.417, "type": "quantitative"}, "text": {"value": "y = 0.3979x + 0.4438"}}
            },
            {
              "data": {"values": [{}]},
              "mark": {"type": "text", "fontSize": 16, "color": "#262626", "align": "center", "baseline": "middle"},
              "encoding": {"x": {"datum": 7.055, "type": "quantitative"}, "y": {"datum": 0.693, "type": "quantitative"}, "text": {"value": "R² = 0.3627"}}
            }
          ]
        }
      ]
    },
    {
      "spacing": 2,
      "resolve": {"scale": {"color": "independent", "stroke": "independent"}},
      "hconcat": [
        {
          "width": 406,
          "height": 253,
          "layer": [
            {
              "data": {"values": [{}]},
              "mark": {"type": "rect", "fill": null, "stroke": "#d4d4d4", "strokeWidth": 1},
              "encoding": {
                "x": {"datum": -0.798, "type": "quantitative", "scale": {"domain": [0, 6], "nice": false, "zero": false},
                      "axis": {"title": "Observed (kg CH₄-C/ha/d)", "values": [0, 1, 2, 3, 4, 5, 6], "format": "d", "labelOverlap": false, "labelPadding": 13, "titlePadding": 5, "titleColor": "#7f7f7f", "titleFontSize": 14}},
                "x2": {"datum": 7.356},
                "y": {"datum": 6.48, "type": "quantitative", "scale": {"domain": [0, 6.072], "nice": false, "zero": false},
                      "axis": {"title": "Predicted (kg CH₄-C/ha/d)", "values": [0, 1, 2, 3, 4, 5, 6], "format": "d", "labelOverlap": false, "domain": false, "labelPadding": 13, "titlePadding": 5, "titleColor": "#7f7f7f", "titleFontSize": 14}},
                "y2": {"datum": -1.536}
              }
            },
            {
              "data": {"values": [{}]},
              "mark": {"type": "rule", "color": "#c9c9c9", "strokeWidth": 1},
              "encoding": {
                "x": {"datum": 0, "type": "quantitative", "scale": {"domain": [0, 6], "nice": false, "zero": false}},
                "y": {"datum": 0, "type": "quantitative", "scale": {"domain": [0, 6.072], "nice": false, "zero": false}},
                "y2": {"datum": 6}
              }
            },
            {
              "data": {"name": "c_pts"},
              "mark": {"type": "point", "shape": "circle", "filled": true, "size": 78, "strokeWidth": 1, "opacity": 1},
              "encoding": {
                "x": {"field": "x", "type": "quantitative", "scale": {"domain": [0, 6], "nice": false, "zero": false}},
                "y": {"field": "y", "type": "quantitative", "scale": {"domain": [0, 6.072], "nice": false, "zero": false}},
                "color": {"field": "series", "type": "nominal", "sort": null, "scale": {"domain": ["Yan et al., 2005", "Wang et al., 2018"], "range": ["#3f85cb", "#8e8e8e"]},
                          "legend": {"title": null, "orient": "none", "legendX": 131, "legendY": 299, "direction": "horizontal", "symbolSize": 60, "columnPadding": 12, "labelOffset": 3}},
                "stroke": {"field": "series", "type": "nominal", "scale": {"domain": ["Yan et al., 2005", "Wang et al., 2018"], "range": ["#2f70b6", "#6f6f6f"]}, "legend": null}
              }
            },
            {
              "data": {"name": "c_lines"},
              "transform": [{"filter": "datum.series === 'Yan et al., 2005'"}],
              "mark": {"type": "line", "color": "#5b9bd5", "strokeWidth": 2, "strokeDash": [0.5, 3.5], "strokeCap": "round"},
              "encoding": {
                "x": {"field": "x", "type": "quantitative", "scale": {"domain": [0, 6], "nice": false, "zero": false}},
                "y": {"field": "y", "type": "quantitative", "scale": {"domain": [0, 6.072], "nice": false, "zero": false}}
              }
            },
            {
              "data": {"name": "c_lines"},
              "transform": [{"filter": "datum.series === 'Wang et al., 2018'"}],
              "mark": {"type": "line", "color": "#7a7a7a", "strokeWidth": 2, "strokeDash": [0.5, 3.5], "strokeCap": "round"},
              "encoding": {
                "x": {"field": "x", "type": "quantitative", "scale": {"domain": [0, 6], "nice": false, "zero": false}},
                "y": {"field": "y", "type": "quantitative", "scale": {"domain": [0, 6.072], "nice": false, "zero": false}}
              }
            },
            {
              "data": {"values": [{}]},
              "mark": {"type": "text", "fontSize": 25, "color": "#000000", "align": "center", "baseline": "middle"},
              "encoding": {"x": {"datum": -0.517, "type": "quantitative"}, "y": {"datum": 5.472, "type": "quantitative"}, "text": {"value": "(c)"}}
            },
            {
              "data": {"values": [{}]},
              "mark": {"type": "text", "fontSize": 13, "color": "#5b9bd5", "align": "center", "baseline": "middle"},
              "encoding": {"x": {"datum": 6.43, "type": "quantitative"}, "y": {"datum": 1.296, "type": "quantitative"}, "text": {"value": "y = 0.0867x + 0.5424"}}
            },
            {
              "data": {"values": [{}]},
              "mark": {"type": "text", "fontSize": 13, "color": "#5b9bd5", "align": "center", "baseline": "middle"},
              "encoding": {"x": {"datum": 6.84, "type": "quantitative"}, "y": {"datum": 0.888, "type": "quantitative"}, "text": {"value": "R² = 0.0323"}}
            },
            {
              "data": {"values": [{}]},
              "mark": {"type": "text", "fontSize": 13, "color": "#7a7a7a", "align": "center", "baseline": "middle"},
              "encoding": {"x": {"datum": 6.45, "type": "quantitative"}, "y": {"datum": 0.264, "type": "quantitative"}, "text": {"value": "y = 0.0662x + 0.2254"}}
            },
            {
              "data": {"values": [{}]},
              "mark": {"type": "text", "fontSize": 13, "color": "#7a7a7a", "align": "center", "baseline": "middle"},
              "encoding": {"x": {"datum": 6.86, "type": "quantitative"}, "y": {"datum": -0.168, "type": "quantitative"}, "text": {"value": "R² = 0.138"}}
            }
          ]
        },
        {
          "width": 410,
          "height": 245,
          "layer": [
            {
              "data": {"values": [{}]},
              "mark": {"type": "rect", "fill": null, "stroke": "#d4d4d4", "strokeWidth": 1},
              "encoding": {
                "x": {"datum": -0.849, "type": "quantitative", "scale": {"domain": [0, 6], "nice": false, "zero": false},
                      "axis": {"title": "Observed (kg CH₄-C/ha/d)", "values": [0, 1, 2, 3, 4, 5, 6], "format": "d", "labelOverlap": false, "labelPadding": 12, "titlePadding": 9, "titleColor": "#7f7f7f", "titleFontSize": 14}},
                "x2": {"datum": 7.186},
                "y": {"datum": 6.417, "type": "quantitative", "scale": {"domain": [0, 6], "nice": false, "zero": false},
                      "axis": {"title": "Predicted (kg CH₄-C/ha/d)", "values": [0, 1, 2, 3, 4, 5, 6], "format": "d", "labelOverlap": false, "labelPadding": 14, "titlePadding": 7, "titleColor": "#7f7f7f", "titleFontSize": 14}},
                "y2": {"datum": -1.763}
              }
            },
            {
              "data": {"name": "d_pts"},
              "mark": {"type": "point", "shape": "circle", "filled": true, "size": 62, "strokeWidth": 1.5, "opacity": 1},
              "encoding": {
                "x": {"field": "x", "type": "quantitative", "scale": {"domain": [0, 6], "nice": false, "zero": false}},
                "y": {"field": "y", "type": "quantitative", "scale": {"domain": [0, 6], "nice": false, "zero": false}},
                "color": {"field": "series", "type": "nominal", "sort": null, "scale": {"domain": ["IPCC 2006", "IPCC 2019"], "range": ["#f4a470", "#8fd49a"]},
                          "legend": {"title": null, "orient": "none", "legendX": 117, "legendY": 299, "direction": "horizontal", "symbolSize": 60, "columnPadding": 20, "labelOffset": 3}},
                "stroke": {"field": "series", "type": "nominal", "scale": {"domain": ["IPCC 2006", "IPCC 2019"], "range": ["#ef8a4c", "#2aac48"]}, "legend": null}
              }
            },
            {
              "data": {"name": "d_lines"},
              "transform": [{"filter": "datum.series === 'IPCC 2019'"}],
              "mark": {"type": "line", "color": "#33b24f", "strokeWidth": 2, "strokeDash": [0.5, 3.5], "strokeCap": "round"},
              "encoding": {
                "x": {"field": "x", "type": "quantitative", "scale": {"domain": [0, 6], "nice": false, "zero": false}},
                "y": {"field": "y", "type": "quantitative", "scale": {"domain": [0, 6], "nice": false, "zero": false}}
              }
            },
            {
              "data": {"name": "d_lines"},
              "transform": [{"filter": "datum.series === 'IPCC 2006'"}],
              "mark": {"type": "line", "color": "#f28e50", "strokeWidth": 2, "strokeDash": [0.5, 3.5], "strokeCap": "round"},
              "encoding": {
                "x": {"field": "x", "type": "quantitative", "scale": {"domain": [0, 6], "nice": false, "zero": false}},
                "y": {"field": "y", "type": "quantitative", "scale": {"domain": [0, 6], "nice": false, "zero": false}}
              }
            },
            {
              "data": {"values": [{}]},
              "mark": {"type": "text", "fontSize": 25, "color": "#000000", "align": "center", "baseline": "middle"},
              "encoding": {"x": {"datum": -0.585, "type": "quantitative"}, "y": {"datum": 5.682, "type": "quantitative"}, "text": {"value": "(d)"}}
            },
            {
              "data": {"values": [{}]},
              "mark": {"type": "text", "fontSize": 13, "color": "#3cb44b", "align": "center", "baseline": "middle"},
              "encoding": {"x": {"datum": 6.27, "type": "quantitative"}, "y": {"datum": 1.494, "type": "quantitative"}, "text": {"value": "y = 0.0455x + 0.848"}}
            },
            {
              "data": {"values": [{}]},
              "mark": {"type": "text", "fontSize": 13, "color": "#3cb44b", "align": "center", "baseline": "middle"},
              "encoding": {"x": {"datum": 6.45, "type": "quantitative"}, "y": {"datum": 1.078, "type": "quantitative"}, "text": {"value": "R² = 0.0123"}}
            },
            {
              "data": {"values": [{}]},
              "mark": {"type": "text", "fontSize": 13, "color": "#f08a4b", "align": "center", "baseline": "middle"},
              "encoding": {"x": {"datum": 6.24, "type": "quantitative"}, "y": {"datum": 0.392, "type": "quantitative"}, "text": {"value": "y = 0.0564x + 0.6418"}}
            },
            {
              "data": {"values": [{}]},
              "mark": {"type": "text", "fontSize": 13, "color": "#f08a4b", "align": "center", "baseline": "middle"},
              "encoding": {"x": {"datum": 6.4, "type": "quantitative"}, "y": {"datum": -0.024, "type": "quantitative"}, "text": {"value": "R² = 0.0355"}}
            }
          ]
        }
      ]
    }
  ]
}
